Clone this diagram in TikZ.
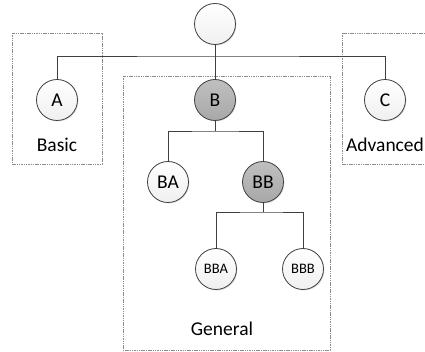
\documentclass[tikz,border=0pt]{standalone}
\usepackage{fontspec}
\setmainfont{Carlito}
\usetikzlibrary{shadows}
\definecolor{edgec}{HTML}{404040}
\definecolor{boxc}{HTML}{8C8C8C}
\begin{document}
\begin{tikzpicture}[x=1pt,y=-1pt,
  circ/.style={circle,draw=edgec,line width=0.8pt,minimum size=41pt,inner sep=0pt,
    top color=white,bottom color=gray!12,font=\fontsize{19.5}{19.5}\selectfont,
    drop shadow={shadow xshift=1pt,shadow yshift=-1pt,opacity=0.25,fill=gray}},
  dark/.style={circ,top color=gray!50,bottom color=gray!68},
  small/.style={font=\fontsize{14.5}{14.5}\selectfont},
  conn/.style={draw=edgec,line width=0.85pt},
  grp/.style={draw=boxc,dash pattern=on 1.5pt off 0.8pt,line width=0.8pt},
  lbl/.style={font=\fontsize{19.5}{19.5}\selectfont,text=black}]
\useasboundingbox (0,0) rectangle (425,352);
\begin{scope}
\clip (0,0) rectangle (425,352);
% group boxes
\draw[grp] (12,33) rectangle (102,164);
\draw[grp] (123,76) rectangle (330,350);
\draw[grp] (342,33) rectangle (440,164);
% nodes
\node[circ] (root) at (215,24) {};
\node[circ] (A) at (57,100) {A};
\node[dark] (B) at (215,100) {B};
\node[circ] (C) at (385,100) {C};
\node[circ] (BA) at (168,182) {BA};
\node[dark] (BB) at (263,182) {BB};
\node[circ,small] (BBA) at (216,269) {BBA};
\node[circ,small] (BBB) at (303,269) {BBB};
% labels
\node[lbl] (basic) at (57,145) {Basic};
\node[lbl] (adv) at (385,145) {Advanced};
\node[lbl] (gen) at (222,329) {General};
% connectors
\coordinate (j1) at (215,56);
\draw[conn] (root.south) -- (B.north);
\draw[conn] (A.north) |- (j1) -| (C.north);
\coordinate (j2) at (215,131);
\draw[conn] (BA.north) |- (j2) -| (BB.north);
\draw[conn] (B.south) -- (j2);
\coordinate (j3) at (263,212);
\draw[conn] (BBA.north) |- (j3) -| (BBB.north);
\draw[conn] (BB.south) -- (j3);
\end{scope}
\end{tikzpicture}
\end{document}
